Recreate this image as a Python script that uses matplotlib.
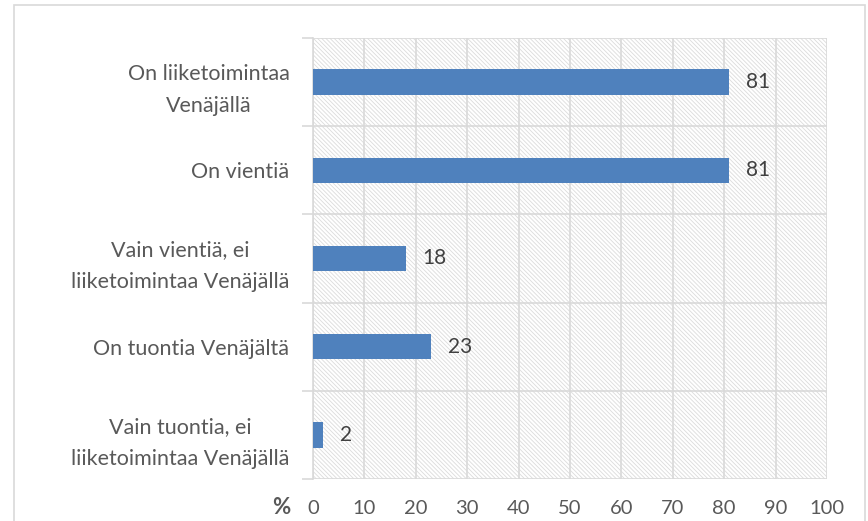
import matplotlib.pyplot as plt
from matplotlib.patches import Rectangle
import numpy as np

categories = [
    "On liiketoimintaa\nVenäjällä",
    "On vientiä",
    "Vain vientiä, ei\nliiketoimintaa Venäjällä",
    "On tuontia Venäjältä",
    "Vain tuontia, ei\nliiketoimintaa Venäjällä",
]
values = [81, 81, 18, 23, 2]
x_ticks = list(range(0, 101, 10))

plt.rcParams["font.family"] = ["Lato", "DejaVu Sans"]
plt.rcParams["hatch.linewidth"] = 0.6

fig = plt.figure(figsize=(8.68, 5.21), dpi=100)
ax = fig.add_axes([313 / 868, 1 - 479 / 521, (827 - 313) / 868, (479 - 38) / 521])

# outer chart border
fig.patches.append(Rectangle((14 / 868, -0.01), 851 / 868, 1 - 5 / 521 + 0.01,
                             transform=fig.transFigure, fill=False,
                             edgecolor="#d9d9d9", lw=1.2))

# hatched plot background
ax.add_patch(Rectangle((0, 0), 1, 1, transform=ax.transAxes, facecolor="white",
                       edgecolor="#dcdcdc", hatch="\\" * 8, lw=0, zorder=0))

y = np.arange(len(categories))
ax.barh(y, values, height=0.29, color="#4f81bd", zorder=3)
for yi, v in zip(y, values):
    ax.text(v + 3.3, yi, str(v), va="center", ha="left", fontsize=15,
            color="#404040", zorder=4)

ax.set_xlim(0, 100)
ax.set_ylim(len(categories) - 0.5, -0.5)
ax.set_xticks(x_ticks)
ax.set_xticklabels([str(t) for t in x_ticks], fontsize=14.5, color="#595959")
ax.tick_params(axis="x", length=0, pad=15)
ax.set_yticks(y)
ax.set_yticklabels(categories, fontsize=15.5, color="#595959", multialignment="center",
                   linespacing=1.75)
ax.tick_params(axis="y", which="major", length=0, pad=17)
ax.set_yticks(np.arange(-0.5, len(categories)), minor=True)
ax.tick_params(axis="y", which="minor", length=8, color="#d9d9d9", width=1.2)
ax.grid(True, axis="x", color="#d9d9d9", lw=1.2, zorder=1)
ax.grid(True, axis="y", which="minor", color="#d9d9d9", lw=1.2, zorder=1)
ax.set_axisbelow(True)
for side in ["top", "right", "bottom"]:
    ax.spines[side].set_visible(False)
ax.spines["left"].set_color("#d9d9d9")
ax.spines["left"].set_linewidth(1.2)

fig.text(281 / 868, 1 - 507 / 521, "%", fontsize=16, fontweight="bold",
         color="#595959", ha="center", va="center")

fig.savefig("out.png", dpi=100)
